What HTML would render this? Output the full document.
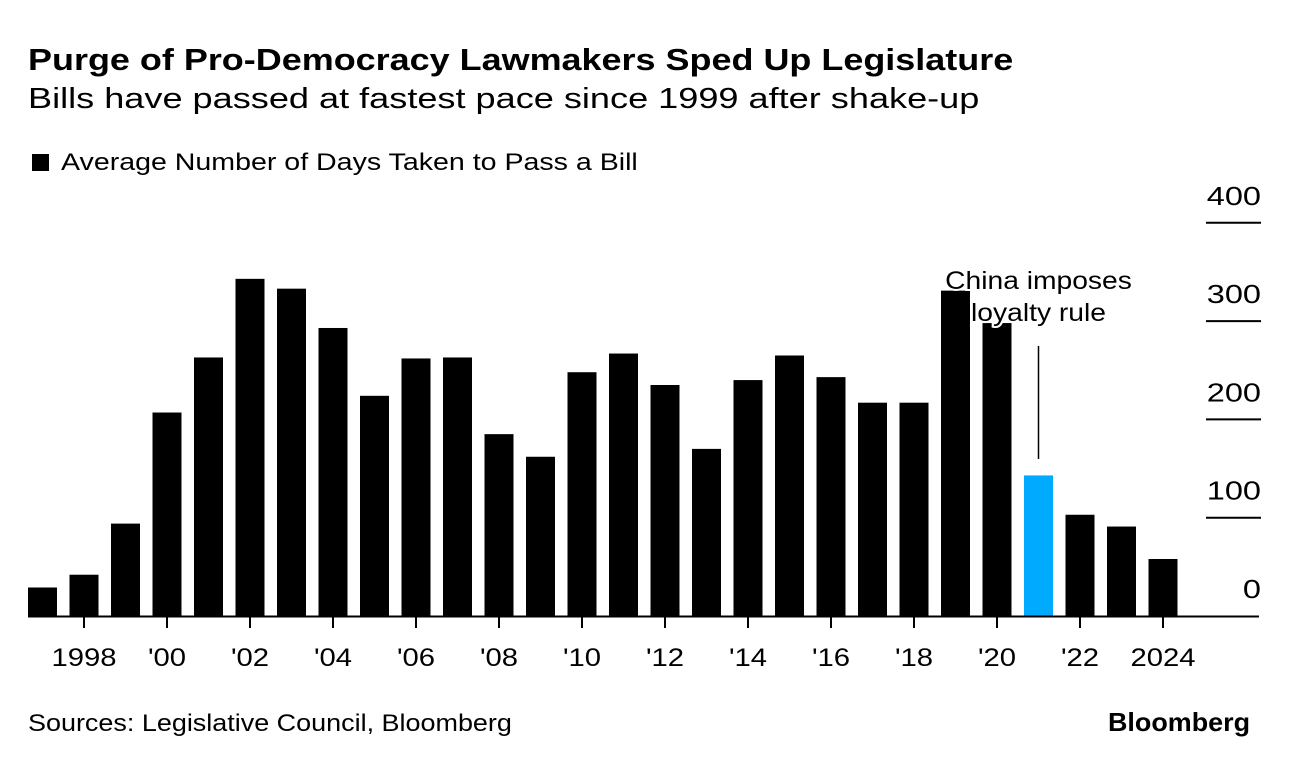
<!DOCTYPE html>
<html><head><meta charset="utf-8"><style>
body{margin:0;background:#fff;font-family:"Liberation Sans",sans-serif;}
#wrap{position:relative;width:1289px;height:766px;overflow:hidden;}
.t{position:absolute;white-space:nowrap;color:#000;transform-origin:0 0;}
</style></head><body>
<div id="wrap">
<div class="t" style="left:28px;top:42px;font-size:31px;font-weight:bold;transform:scaleX(1.16);">Purge of Pro-Democracy Lawmakers Sped Up Legislature</div>
<div class="t" style="left:28px;top:83px;font-size:29px;transform:scaleX(1.245);">Bills have passed at fastest pace since 1999 after shake-up</div>
<div class="t" style="left:32px;top:149px;font-size:24px;"><span style="display:inline-block;width:17px;height:17px;background:#000;margin-right:12px;vertical-align:-1px;"></span><span style="display:inline-block;transform:scaleX(1.19);transform-origin:0 0;">Average Number of Days Taken to Pass a Bill</span></div>
<svg id="svg" width="1289" height="766" style="position:absolute;left:0;top:0"></svg>
<div class="t" style="left:28px;top:710px;font-size:24px;transform:scaleX(1.123);">Sources: Legislative Council, Bloomberg</div>
<div class="t" style="left:1108px;top:707px;font-size:26px;font-weight:bold;transform:scaleX(1.035);">Bloomberg</div>
</div>
<script>
const years=[1997,1998,1999,2000,2001,2002,2003,2004,2005,2006,2007,2008,2009,2010,2011,2012,2013,2014,2015,2016,2017,2018,2019,2020,2021,2022,2023,2024];
const values=[29,42,94,207,263,343,333,293,224,262,263,185,162,248,267,235,170,240,265,243,217,217,331,298,143,103,91,58];
const yTicks=[0,100,200,300,400];
const xTickYears=[1998,2000,2002,2004,2006,2008,2010,2012,2014,2016,2018,2020,2022,2024];
const xTickLabels=["1998","'00","'02","'04","'06","'08","'10","'12","'14","'16","'18","'20","'22","2024"];
const highlightYear=2021;
const NS="http://www.w3.org/2000/svg";
const svg=document.getElementById('svg');
const base=616, pxPer=0.983;
const y=v=>base-v*pxPer;
const x=yr=>42.5+(yr-1997)*41.5;
const bw=29;
function mk(t,a){const e=document.createElementNS(NS,t);for(const k in a)e.setAttribute(k,a[k]);svg.appendChild(e);return e;}
function txt(s,px,py,anchor,size,sx,extra){
  const a=Object.assign({x:0,y:0,'text-anchor':anchor,'font-size':size,'font-family':'Liberation Sans',transform:`translate(${px},${py}) scale(${sx},1)`},extra||{});
  const t=mk('text',a);t.textContent=s;return t;
}
yTicks.forEach(v=>{
  if(v>0){const l=mk('line',{x1:1206,x2:1261,y1:y(v),y2:y(v),stroke:'#000','stroke-width':2});
  
  }
  const t=txt(String(v),1261,y(v)-18,'end',26,1.25);
  
  
});
years.forEach((yr,i)=>{
  const r=mk('rect',{x:x(yr)-bw/2,y:y(values[i]),width:bw,height:base-y(values[i]),fill:yr===highlightYear?'#00aaff':'#000'});
  
  
});
const ax=mk('line',{x1:28,x2:1259,y1:base+0.5,y2:base+0.5,stroke:'#000','stroke-width':2});


xTickYears.forEach((yr,i)=>{
  const l=mk('line',{x1:x(yr),x2:x(yr),y1:base,y2:base+12,stroke:'#000','stroke-width':2});
  
  
  const t=txt(xTickLabels[i],x(yr),666,'middle',25,1.17);
  
  
});
const hx=x(highlightYear);
const al=mk('line',{x1:hx,x2:hx,y1:346,y2:459,stroke:'#000','stroke-width':1.5});


['China imposes','loyalty rule'].forEach((s,i)=>{
  const t=txt(s,hx,289+i*32,'middle',25,1.13,{stroke:'#fff','stroke-width':4,'paint-order':'stroke'});
  
  
});
</script>
</body></html>
